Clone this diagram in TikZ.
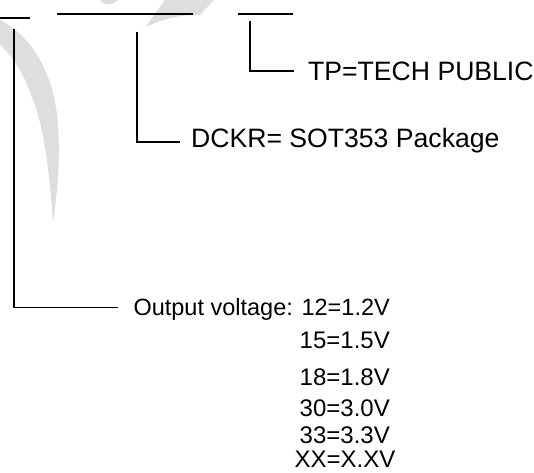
\documentclass[tikz,border=0pt]{standalone}
\usepackage{fontspec}
\setmainfont{Liberation Sans}
\usetikzlibrary{positioning}

\begin{document}
\begin{tikzpicture}[x=1pt, y=-1pt,
field/.style={line width=1.5pt},
leader/.style={line width=1.5pt},
bignote/.style={anchor=west, inner sep=0pt, text height=19pt, text depth=0pt, font=\fontsize{26.6}{30}\selectfont},
smallnote/.style={anchor=east, inner sep=0pt, text height=17.2pt, text depth=0pt, font=\fontsize{24}{28}\selectfont},
watermark/.style={fill=black!13},
]

\useasboundingbox (0,0) rectangle (534,472);

% faint logo behind the fields
\fill[watermark] (0,20) .. controls (30,35) and (52,70) .. (57,115) .. controls (61,150) and (58,190) .. (53,222)
      .. controls (50,180) and (45,130) .. (33,100) .. controls (25,75) and (12,55) .. (0,45) -- cycle;
\fill[watermark] (146,27) .. controls (160,20) and (180,14) .. (200,15) -- (214,0) -- (165,0)
      .. controls (158,10) and (150,20) .. (146,27) -- cycle;
\fill[watermark] (100,0) .. controls (105,6) and (112,6) .. (118,0) -- cycle;

% fields of the part number
\draw[field] (0,18) -- (30,18);
\draw[field] (57,14) -- (193,14);
\draw[field] (238,14) -- (293,14);

\coordinate (Volt)  at (14,28.5);
\coordinate (Pack)  at (137,31.5);
\coordinate (Brand) at (250,20.5);

\node[bignote]   (Tp)    at (308,71)    {TP=TECH PUBLIC};
\node[bignote]   (Dckr)  at (191,137.5) {DCKR= SOT353 Package};
\node[smallnote, font=\fontsize{23.5}{28}\selectfont] (Out) at (390,306.5) {Output voltage: 12=1.2V};
\node[smallnote] (V15)   at (390,340)   {15=1.5V};
\node[smallnote] (V18)   at (390,377)   {18=1.8V};
\node[smallnote] (V30)   at (390,408)   {30=3.0V};
\node[smallnote] (V33)   at (390,434.5) {33=3.3V};
\node[smallnote, anchor=center] (Vxx) at (345,459) {XX=X.XV};

\draw[leader] (Brand) |- ([xshift=-14pt]Tp.west);
\draw[leader] (Pack)  |- ([xshift=-11pt,yshift=-4.5pt]Dckr.west);
\draw[leader] (Volt)  |- (118,307.5);

\end{tikzpicture}
\end{document}
